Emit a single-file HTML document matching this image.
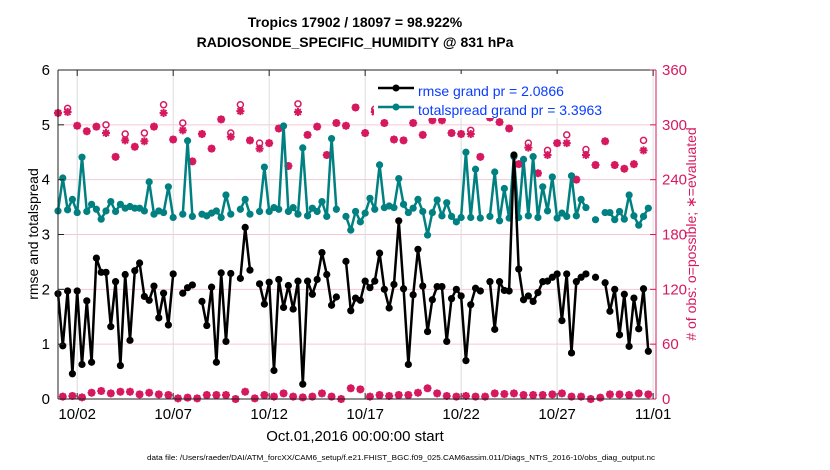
<!DOCTYPE html>
<html><head><meta charset="utf-8"><style>
html,body{margin:0;padding:0;background:#fff;}
svg{display:block;font-family:"Liberation Sans",Arial,sans-serif;}
</style></head><body>
<svg id="chart" width="830" height="470" viewBox="0 0 830 470">
<g id="grid"></g>
<g id="series"></g>
<g id="axes"></g>
<text x="355" y="27" text-anchor="middle" font-size="14" font-weight="bold">Tropics 17902 / 18097 = 98.922%</text>
<text x="355" y="47" text-anchor="middle" font-size="14" font-weight="bold">RADIOSONDE_SPECIFIC_HUMIDITY @ 831 hPa</text>
<text transform="translate(38,234) rotate(-90)" text-anchor="middle" font-size="14">rmse and totalspread</text>
<text transform="translate(696,234) rotate(-90)" text-anchor="middle" font-size="14" fill="#d6195f"># of obs: o=possible; ∗=evaluated</text>
<text x="355" y="441" text-anchor="middle" font-size="15">Oct.01,2016 00:00:00 start</text>
<text x="401" y="460" text-anchor="middle" font-size="7.5" textLength="508" lengthAdjust="spacingAndGlyphs">data file: /Users/raeder/DAI/ATM_forcXX/CAM6_setup/f.e21.FHIST_BGC.f09_025.CAM6assim.011/Diags_NTrS_2016-10/obs_diag_output.nc</text>
<g>
<rect x="374" y="74" width="278" height="44" fill="#fff"/>
<g>
<line x1="378" y1="88" x2="414" y2="88" stroke="#000" stroke-width="2.5"/><circle cx="396" cy="88" r="3.5" fill="#000"/>
<text x="418" y="96" font-size="14" fill="#0a3cff">rmse grand pr = 2.0866</text></g>
<g>
<line x1="378" y1="107" x2="414" y2="107" stroke="#008080" stroke-width="2.5"/><circle cx="396" cy="107" r="3.5" fill="#008080"/>
<text x="418" y="115" font-size="14" fill="#0a3cff">totalspread grand pr = 3.3963</text></g>
</g>
</svg>
<script>
const rmse=[1.92,0.97,1.97,0.46,1.97,0.63,1.79,0.67,2.57,2.31,2.31,1.32,2.14,0.61,2.27,1.07,2.34,2.48,1.87,1.80,2.06,1.48,1.93,1.35,2.28,null,1.93,2.03,2.08,null,1.78,1.34,2.04,0.67,2.30,1.05,2.29,null,2.20,3.13,2.35,null,
2.10,1.73,2.13,0.52,2.18,1.67,2.07,1.64,2.15,0.27,2.15,1.91,2.18,2.67,2.27,1.71,1.86,null,2.51,1.61,1.84,1.80,2.15,2.03,2.15,2.66,2.00,1.66,2.09,3.25,2.01,0.63,1.90,2.73,2.06,1.23,1.81,2.05,2.05,1.05,1.83,2.00,
1.88,0.70,1.72,2.02,1.97,null,2.14,1.27,2.14,1.98,1.97,4.45,2.37,1.81,1.88,1.78,1.94,2.14,2.15,2.22,2.28,1.43,2.28,0.84,2.14,2.22,2.28,null,2.22,null,2.12,1.60,2.00,1.17,1.91,0.96,1.84,1.28,2.01,0.87];
const spread=[3.43,4.03,3.45,3.64,3.40,4.41,3.42,3.55,3.46,3.28,3.43,3.60,3.42,3.55,3.48,3.51,3.48,3.48,3.43,3.96,3.37,3.43,3.40,3.87,3.31,null,3.37,4.71,3.33,null,3.37,3.34,3.39,3.43,3.31,3.72,3.37,null,3.46,3.64,3.37,null,
3.42,4.23,3.42,3.49,3.46,4.98,3.42,3.49,3.37,4.58,3.34,3.48,3.42,3.60,3.33,4.75,3.46,null,3.33,3.08,3.42,3.23,3.39,3.66,3.46,4.27,3.49,3.52,3.49,4.02,3.55,3.40,3.48,3.64,3.42,2.99,3.40,3.63,3.34,3.58,3.33,3.23,
3.31,4.50,3.31,4.19,3.30,null,3.33,4.14,3.25,3.84,3.30,4.42,3.31,4.37,3.34,4.42,3.31,3.87,3.43,4.05,3.30,3.39,3.33,4.07,3.34,3.64,3.49,null,3.27,null,3.40,3.40,3.27,3.42,3.28,3.72,3.34,3.17,3.33,3.48];
const evaluated=[313,2.6,314,3.3,299,1.8,293,6.9,298,8.8,291,6.2,265,8,283,8,276,5.1,282,6.9,298,5.1,313,4.4,284,0.7,294,1.5,260,0.7,290,4.4,274,4.4,306,4.4,287,0,315,8,283,0.7,274,4.4,280,2.6,296,6.2,255,2.6,314,1.8,289,2.6,298,6.2,267,2.6,302,0,299,11.7,319,10.6,291,2.6,314,4.4,302,3.3,284,4.4,283,4.4,302,6.9,289,11.7,305,6.2,305,3.3,291,2.6,290,3.3,290,2.6,265,2.6,308,6.2,303,5.5,296,6.2,257,4.4,275,4.4,247,4.4,267,5.1,280,6.2,280,2.6,240,2.6,267,0,256,1.5,282,5.1,256,5.1,252,4.4,257,6.2,272,5.1];
const possible=[313,2.6,318,3.3,299,1.8,293,6.9,298,8.8,300,6.2,265,8,290,8,276,5.1,291,6.9,298,5.1,322,4.4,284,0.7,302,1.5,260,0.7,290,4.4,274,4.4,306,4.4,291,0,322,8,283,0.7,280,4.4,280,2.6,296,6.2,255,2.6,323,1.8,289,2.6,298,6.2,267,2.6,302,0,299,11.7,319,10.6,291,2.6,317,4.4,302,3.3,284,4.4,283,4.4,302,6.9,289,11.7,305,6.2,305,3.3,291,2.6,290,3.3,294,2.6,265,2.6,308,6.2,303,5.5,296,6.2,257,4.4,280,4.4,247,4.4,272,5.1,280,6.2,289,2.6,240,2.6,273,0,256,1.5,282,5.1,256,5.1,252,4.4,257,6.2,283,5.1];
const xTickDays=[1,6,11,16,21,26,31];
const xTickLabels=["10/02","10/07","10/12","10/17","10/22","10/27","11/01"];
const yTicks=[0,1,2,3,4,5,6];
const rTicks=[0,60,120,180,240,300,360];

const NS="http://www.w3.org/2000/svg";
const X0=58,X1=656,Y0=399,Y1=70,DMAX=31.15;
function xs(d){return X0+(X1-X0)*d/DMAX;}
function ys(v){return Y0-(Y0-Y1)*v/6;}
function yr(c){return Y0-(Y0-Y1)*c/360;}
function mk(tag,at,parent){const e=document.createElementNS(NS,tag);for(const k in at)e.setAttribute(k,at[k]);parent.appendChild(e);return e;}
const grid=document.getElementById('grid'),ser=document.getElementById('series'),ax=document.getElementById('axes');
const MAG="#d6195f";
mk('rect',{x:X0,y:Y1,width:X1-X0,height:Y0-Y1,fill:'#fff'},grid);
rTicks.forEach(t=>{const l=mk('line',{x1:X0,x2:X1,y1:yr(t),y2:yr(t),stroke:'#f5c6d6','stroke-width':1},grid);

});
xTickDays.forEach(d=>{const l=mk('line',{x1:xs(d),x2:xs(d),y1:Y0,y2:Y1,stroke:'#dcdcdc','stroke-width':1},grid);

});

function drawLine(vals,color,name){
  const g=mk('g',{},ser);
  
  
  let seg=[];
  const flush=()=>{if(seg.length>1)mk('polyline',{points:seg.join(' '),fill:'none',stroke:color,'stroke-width':2.5,'stroke-linejoin':'round'},g);seg=[];};
  vals.forEach((v,i)=>{if(v==null){flush();return;}seg.push(xs(i*0.25).toFixed(1)+','+ys(v).toFixed(1));});
  flush();
  vals.forEach((v,i)=>{if(v==null)return;const c=mk('circle',{cx:xs(i*0.25),cy:ys(v),r:3.6,fill:color},g);
  
  });
}
const og=mk('g',{},ser);


possible.forEach((c,i)=>{const e=mk('circle',{cx:xs(i*0.25),cy:yr(c),r:3,fill:'#fff',stroke:MAG,'stroke-width':1.5},og);

});
evaluated.forEach((c,i)=>{const x=xs(i*0.25),y=yr(c),r=4;
const p=mk('path',{d:`M${x-r} ${y}H${x+r}M${x} ${y-r}V${y+r}M${x-2.9} ${y-2.9}L${x+2.9} ${y+2.9}M${x-2.9} ${y+2.9}L${x+2.9} ${y-2.9}`,stroke:MAG,'stroke-width':2,fill:'none'},og);


mk('circle',{cx:x,cy:y,r:2.6,fill:MAG},og);});
drawLine(spread,'#008080','totalspread-series');
drawLine(rmse,'#000','rmse-series');

mk('line',{x1:X0,x2:X1,y1:Y1,y2:Y1,stroke:'#222','stroke-width':1},ax);
mk('line',{x1:X0,x2:X1,y1:Y0,y2:Y0,stroke:'#222','stroke-width':1},ax);
mk('line',{x1:X0,x2:X0,y1:Y0,y2:Y1,stroke:'#222','stroke-width':1},ax);
mk('line',{x1:X1,x2:X1,y1:Y0,y2:Y1,stroke:MAG,'stroke-width':1},ax);
yTicks.forEach(t=>{mk('line',{x1:X0,x2:X0+6,y1:ys(t),y2:ys(t),stroke:'#222'},ax);
const tx=mk('text',{x:X0-8,y:ys(t)+5,'text-anchor':'end','font-size':15},ax);tx.textContent=t;

});
rTicks.forEach(t=>{mk('line',{x1:X1-6,x2:X1,y1:yr(t),y2:yr(t),stroke:MAG},ax);
const tx=mk('text',{x:X1+6,y:yr(t)+5,'font-size':15,fill:MAG},ax);tx.textContent=t;

});
xTickDays.forEach((d,k)=>{mk('line',{x1:xs(d),x2:xs(d),y1:Y0,y2:Y0-6,stroke:'#222'},ax);
mk('line',{x1:xs(d),x2:xs(d),y1:Y1,y2:Y1+6,stroke:'#222'},ax);
const tx=mk('text',{x:xs(d),y:419,'text-anchor':'middle','font-size':15},ax);tx.textContent=xTickLabels[k];

});
</script>
</body></html>
